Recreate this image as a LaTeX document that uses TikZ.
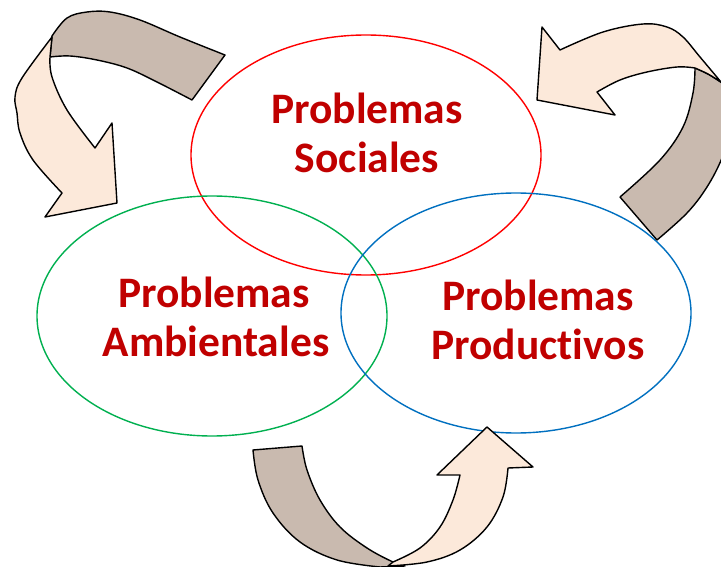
\documentclass[tikz,border=0pt]{standalone}
\usepackage{fontspec}
\setmainfont[RawFeature={-liga}]{Carlito}
\usetikzlibrary{shapes.geometric}
\definecolor{txtred}{HTML}{C00000}
\definecolor{elred}{HTML}{FF0000}
\definecolor{elgreen}{HTML}{00B050}
\definecolor{elblue}{HTML}{0070C0}
\definecolor{darkband}{HTML}{C9BAAF}
\definecolor{lightband}{HTML}{FCE9DA}
\tikzset{
  circ/.style={draw, ellipse, line width=1.4pt, inner sep=0pt, minimum width=350pt, minimum height=240pt},
  lbl/.style={anchor=base, inner sep=0pt, text=txtred, font=\fontsize{43.5}{48}\selectfont\bfseries},
  backband/.style={draw=black, fill=darkband, line width=1.4pt, line join=round},
  frontband/.style={draw=black, fill=lightband, line width=1.4pt, line join=round},
}
\begin{document}
\begin{tikzpicture}[x=1pt,y=-1pt]
\useasboundingbox[fill=white] (0,0) rectangle (721,567);
\clip (0,0) rectangle (721,567);
% ellipses
\node[circ, draw=elred] (soc) at (366,155) {};
\node[circ, draw=elgreen] (amb) at (212,316) {};
\node[circ, draw=elblue] (pro) at (516,313) {};
% labels
\node[lbl] (s1) at (367,124) {Problemas};
\node[lbl] (s2) at (367,173) {Sociales};
\node[lbl] (a1) at (214,307) {Problemas};
\node[lbl] (a2) at (216,356) {Ambientales};
\node[lbl] (p1) at (538,310) {Problemas};
\node[lbl] (p2) at (538,359) {Productivos};
% top-left arrow
\draw[backband] plot[smooth, tension=0.6] coordinates {(52,36) (67,18) (87,12) (110,12) (140,20) (180,37) (225,55)}
  -- plot[smooth, tension=0.6] coordinates {(192,100) (157,82) (127,68) (97,60) (70,56) (50,57)} -- cycle;
\draw[frontband] plot[smooth, tension=0.6] coordinates {(52,37) (22,78) (15,97) (17,113) (20,133) (33,160) (62,193)}
  -- (45,217) -- (117,203) -- (112,123)
  -- plot[smooth, tension=0.6] coordinates {(95,148) (67,110) (52,77) (50,57)} -- cycle;
% top-right arrow
\draw[backband] plot[smooth, tension=0.6] coordinates {(695,68) (693,93) (683,127) (660,160) (620,197)}
  -- plot[smooth, tension=0.6] coordinates {(657,240) (687,213) (707,187) (722,158) (730,130)}
  -- (730,86) -- plot[smooth, tension=0.6] coordinates {(722,83) (708,74) (695,68)} -- cycle;
\draw[frontband] plot[smooth, tension=0.6] coordinates {(560,50) (603,32) (643,24) (667,27) (683,37) (700,57) (721,82)}
  -- plot[smooth, tension=0.6] coordinates {(721,82) (708,74) (695,68)}
  -- plot[smooth, tension=0.6] coordinates {(695,68) (677,67) (647,72) (620,80) (597,92)}
  -- (615,115) -- (537,100) -- (542,27) -- cycle;
% bottom arrow
\draw[backband] (253,450) -- plot[smooth, tension=0.6] coordinates {(302,446) (307,470) (320,500) (340,527) (367,548) (393,562) (405,566)}
  -- plot[smooth, tension=0.6] coordinates {(380,567) (337,560) (300,542) (273,513) (258,480) (253,450)} -- cycle;
\draw[frontband] plot[smooth, tension=0.6] coordinates {(388,566) (427,562) (460,550) (487,527) (503,497) (508,468)}
  -- (533,467) -- (487,427) -- (437,475) -- (460,475)
  -- plot[smooth, tension=0.6] coordinates {(460,475) (453,500) (440,527) (420,548) (393,562)} -- cycle;
\end{tikzpicture}
\end{document}
